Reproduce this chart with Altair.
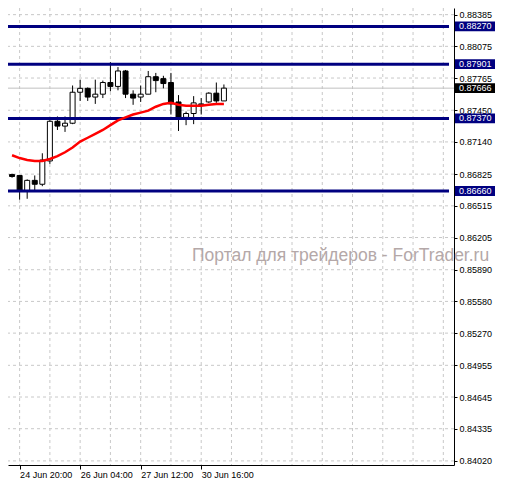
import altair as alt
import pandas as pd

# H4 bars, index 0 = 24 Jun 20:00
bar_index = list(range(-1, 28))
open_ = [0.86821, 0.86812, 0.86660, 0.86764, 0.86726, 0.86954, 0.87342, 0.87295, 0.87323, 0.87626,
         0.87664, 0.87579, 0.87607, 0.87721, 0.87683, 0.87834, 0.87607, 0.87579, 0.87607, 0.87778,
         0.87759, 0.87721, 0.87531, 0.87380, 0.87418, 0.87503, 0.87531, 0.87617, 0.87541]
high_ = [0.86830, 0.86815, 0.86774, 0.86812, 0.87029, 0.87361, 0.87389, 0.87389, 0.87692, 0.87749,
         0.87673, 0.87749, 0.87740, 0.87920, 0.87872, 0.87844, 0.87645, 0.87692, 0.87834, 0.87815,
         0.87787, 0.87815, 0.87598, 0.87437, 0.87588, 0.87569, 0.87626, 0.87721, 0.87702]
low_ = [0.86790, 0.86575, 0.86584, 0.86660, 0.86707, 0.86925, 0.87257, 0.87238, 0.87314, 0.87541,
        0.87541, 0.87512, 0.87569, 0.87635, 0.87645, 0.87569, 0.87503, 0.87531, 0.87607, 0.87626,
        0.87664, 0.87408, 0.87247, 0.87304, 0.87314, 0.87408, 0.87522, 0.87522, 0.87541]
close_ = [0.86802, 0.86660, 0.86764, 0.86726, 0.86963, 0.87342, 0.87295, 0.87323, 0.87626, 0.87664,
          0.87579, 0.87607, 0.87721, 0.87683, 0.87834, 0.87607, 0.87569, 0.87607, 0.87778, 0.87740,
          0.87711, 0.87512, 0.87380, 0.87418, 0.87522, 0.87512, 0.87617, 0.87541, 0.87666]
ma_ = [0.87010, 0.86982, 0.86963, 0.86954, 0.86954, 0.86973, 0.87001, 0.87039, 0.87086, 0.87143,
       0.87181, 0.87219, 0.87257, 0.87304, 0.87351, 0.87380, 0.87408, 0.87427, 0.87446, 0.87484,
       0.87512, 0.87522, 0.87503, 0.87493, 0.87493, 0.87493, 0.87503, 0.87512, 0.87512]

levels = [0.88270, 0.87901, 0.87370, 0.86660]
bid = [0.87666]
y_ticks = [0.88385, 0.88075, 0.87765, 0.87450, 0.87140, 0.86825, 0.86515, 0.86205,
           0.85890, 0.85580, 0.85270, 0.84955, 0.84645, 0.84335, 0.84020]
x_tick_idx = [0, 8, 16, 24]
x_tick_labels = ["24 Jun 20:00", "26 Jun 04:00", "27 Jun 12:00", "30 Jun 16:00"]
x_grid_idx = list(range(0, 57, 4))
watermark = ["Портал для трейдеров - ForTrader.ru"]

W, H = 446, 457
FONT = "Liberation Sans"
FS = 9

xs = alt.Scale(domain=[-0.875, 56.75], nice=False, zero=False)
ys = alt.Scale(domain=[0.83980, 0.88450], nice=False, zero=False)

lab_arr = "[" + ",".join(f"'{s}'" for s in x_tick_labels) + "]"
val_arr = "[" + ",".join(str(v) for v in x_tick_idx) + "]"
x_axis = alt.Axis(values=x_tick_idx, labelExpr=f"{lab_arr}[indexof({val_arr}, datum.value)]",
                  orient="bottom", grid=False, title=None, domainColor="black", tickColor="black",
                  tickSize=4, labelAlign="left", labelBaseline="top", labelPadding=1, labelFont=FONT,
                  labelFontSize=FS, labelColor="black", labelFlush=False, labelOverlap=False)
y_axis = alt.Axis(values=y_ticks, format=".5f", orient="right", grid=False, title=None,
                  domainColor="black", tickColor="black", tickSize=3, labelPadding=2, labelFont=FONT,
                  labelFontSize=FS, labelColor="black", labelFlush=False, labelOverlap=False)

def X(f):
    return alt.X(f, type="quantitative", scale=xs, axis=x_axis)

def Y(f):
    return alt.Y(f, type="quantitative", scale=ys, axis=y_axis)

df = pd.DataFrame({"i": bar_index, "open": open_, "high": high_, "low": low_,
                   "close": close_, "ma": ma_})

GRID = "#c8c8c8"
grid_v = alt.Chart(pd.DataFrame({"g": x_grid_idx})).mark_rule(
    color=GRID, strokeDash=[3, 3], strokeWidth=1).encode(x=X("g"))
grid_h = alt.Chart(pd.DataFrame({"t": y_ticks})).mark_rule(
    color=GRID, strokeDash=[3, 3], strokeWidth=1).encode(y=Y("t"))
bid_line = alt.Chart(pd.DataFrame({"b": bid})).mark_rule(
    color="#c0c0c0", strokeWidth=1).encode(y=Y("b"))
wm = alt.Chart(pd.DataFrame({"t": watermark})).mark_text(
    align="left", baseline="alphabetic", font=FONT, fontSize=17.5, color="#b4a8a8").encode(
    x=alt.value(184), y=alt.value(253), text="t:N")

wicks = alt.Chart(df).mark_rule(color="black", strokeWidth=1, clip=True).encode(
    x=X("i"), y=Y("low"), y2="high:Q")
bodies = alt.Chart(df).mark_bar(size=5, stroke="black", strokeWidth=1, clip=True).encode(
    x=X("i"), y=Y("open"), y2="close:Q",
    fill=alt.condition("datum.close >= datum.open", alt.value("white"), alt.value("black")))
ma_line = alt.Chart(df).mark_line(color="#ff0000", strokeWidth=2.5, clip=True).encode(
    x=X("i"), y=Y("ma"))

lv = pd.DataFrame({"p": levels})
level_lines = alt.Chart(lv).mark_rule(color="#000080", strokeWidth=3).encode(
    y=Y("p"), x=alt.value(0), x2=alt.value(441))

BOX = "M-1,-0.245L1,-0.245L1,0.245L-1,0.245Z"
level_boxes = alt.Chart(lv).mark_point(shape=BOX, size=1600, filled=True, opacity=1,
                                       fill="#000080", strokeWidth=0).encode(
    y=Y("p"), x=alt.value(W + 21))
level_text = alt.Chart(lv).mark_text(align="left", baseline="middle", font=FONT, fontSize=FS,
                                     color="white").encode(
    y=Y("p"), x=alt.value(W + 5), text=alt.Text("p:Q", format=".5f"))
bd = pd.DataFrame({"p": bid})
bid_box = alt.Chart(bd).mark_point(shape=BOX, size=1600, filled=True, opacity=1,
                                   fill="#000000", strokeWidth=0).encode(
    y=Y("p"), x=alt.value(W + 21))
bid_text = alt.Chart(bd).mark_text(align="left", baseline="middle", font=FONT, fontSize=FS,
                                   color="white").encode(
    y=Y("p"), x=alt.value(W + 5), text=alt.Text("p:Q", format=".5f"))

chart = alt.layer(grid_v, grid_h, bid_line, wm, wicks, bodies, level_lines, ma_line,
                  level_boxes, level_text, bid_box, bid_text).properties(
    width=W, height=H, background="white",
    autosize=alt.AutoSizeParams(type="none"),
    padding={"left": 0, "top": 0, "right": 43, "bottom": 18},
).configure_view(stroke=None)

chart.save("out.html", embed_options={"renderer": "svg", "actions": False})
